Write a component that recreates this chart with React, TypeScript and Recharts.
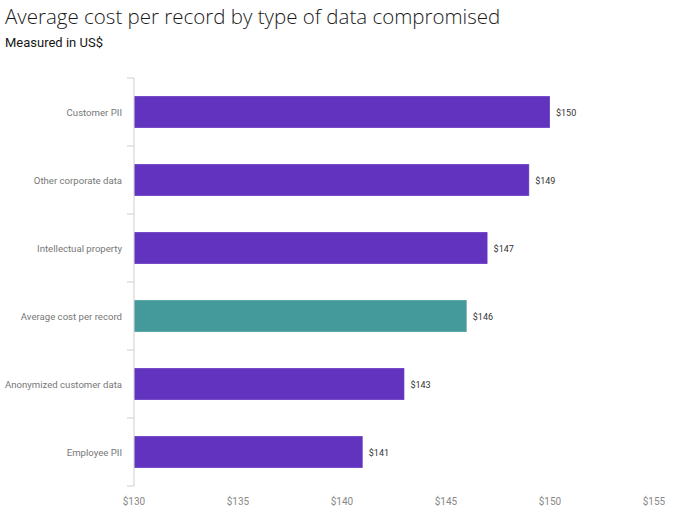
import React from 'react';
import { BarChart, Bar, XAxis, YAxis, Cell, LabelList } from 'recharts';

const categories = [
  'Customer PII',
  'Other corporate data',
  'Intellectual property',
  'Average cost per record',
  'Anonymized customer data',
  'Employee PII',
];
const costs = [150, 149, 147, 146, 143, 141];
const highlighted = ['Average cost per record'];
const xTicks = [130, 135, 140, 145, 150, 155];

const PURPLE = '#6133bf';
const TEAL = '#449a9a';
const AXIS = '#cfcfcf';
const FONT = '"Open Sans", sans-serif';
const SMALL = 'Roboto, sans-serif';

const data = categories.map((name, i) => ({ name, cost: costs[i] }));

const CategoryTick = (props: any) => {
  const { x, y, payload, index, visibleTicksCount } = props;
  const half = payload && payload.offset ? payload.offset : 34;
  const last = index === visibleTicksCount - 1;
  return (
    <g>
      <line x1={x + 1} x2={x + 8} y1={y - half} y2={y - half} stroke={AXIS} />
      {last && <line x1={x + 1} x2={x + 8} y1={y + half} y2={y + half} stroke={AXIS} />}
      <text x={x - 4} y={y + 1} dy="0.35em" textAnchor="end" fontSize={9.6} fill="#777" fontFamily={SMALL}>
        {payload.value}
      </text>
    </g>
  );
};

export default function App() {
  return (
    <div style={{ position: 'absolute', left: 0, top: 0, width: 678, height: 529, background: '#fff' }}>
      <div style={{ position: 'absolute', left: 5, top: 2, fontFamily: FONT, fontWeight: 300, fontSize: 20.5, color: '#1a1a1a', whiteSpace: 'nowrap' }}>
        Average cost per record by type of data compromised
      </div>
      <div style={{ position: 'absolute', left: 5, top: 35, fontFamily: SMALL, fontSize: 13, color: '#161616', whiteSpace: 'nowrap' }}>
        Measured in US$
      </div>
      <div style={{ position: 'absolute', left: 0, top: 0 }}>
        <BarChart
          width={678}
          height={529}
          data={data}
          layout="vertical"
          margin={{ top: 78, right: 24, bottom: 0, left: 0 }}
          barSize={32}
        >
          <XAxis
            type="number"
            domain={[130, 155]}
            ticks={xTicks}
            allowDataOverflow
            height={43}
            axisLine={false}
            tickLine={false}
            tickMargin={6}
            tick={{ fontSize: 10, fill: '#888', fontFamily: SMALL }}
            tickFormatter={(v: number) => `$${v}`}
          />
          <YAxis
            type="category"
            dataKey="name"
            width={134}
            axisLine={{ stroke: AXIS }}
            tickLine={false}
            tick={<CategoryTick />}
            interval={0}
          />
          <Bar dataKey="cost" isAnimationActive={false} stroke="#ffffff" strokeOpacity={0.25}>
            {data.map((d) => (
              <Cell key={d.name} fill={highlighted.includes(d.name) ? TEAL : PURPLE} />
            ))}
            <LabelList
              dataKey="cost"
              position="right"
              offset={6}
              fontSize={9}
              fill="#333"
              fontFamily={SMALL}
              dy={1}
              formatter={(v: number) => `$${v}`}
            />
          </Bar>
        </BarChart>
      </div>
    </div>
  );
}
